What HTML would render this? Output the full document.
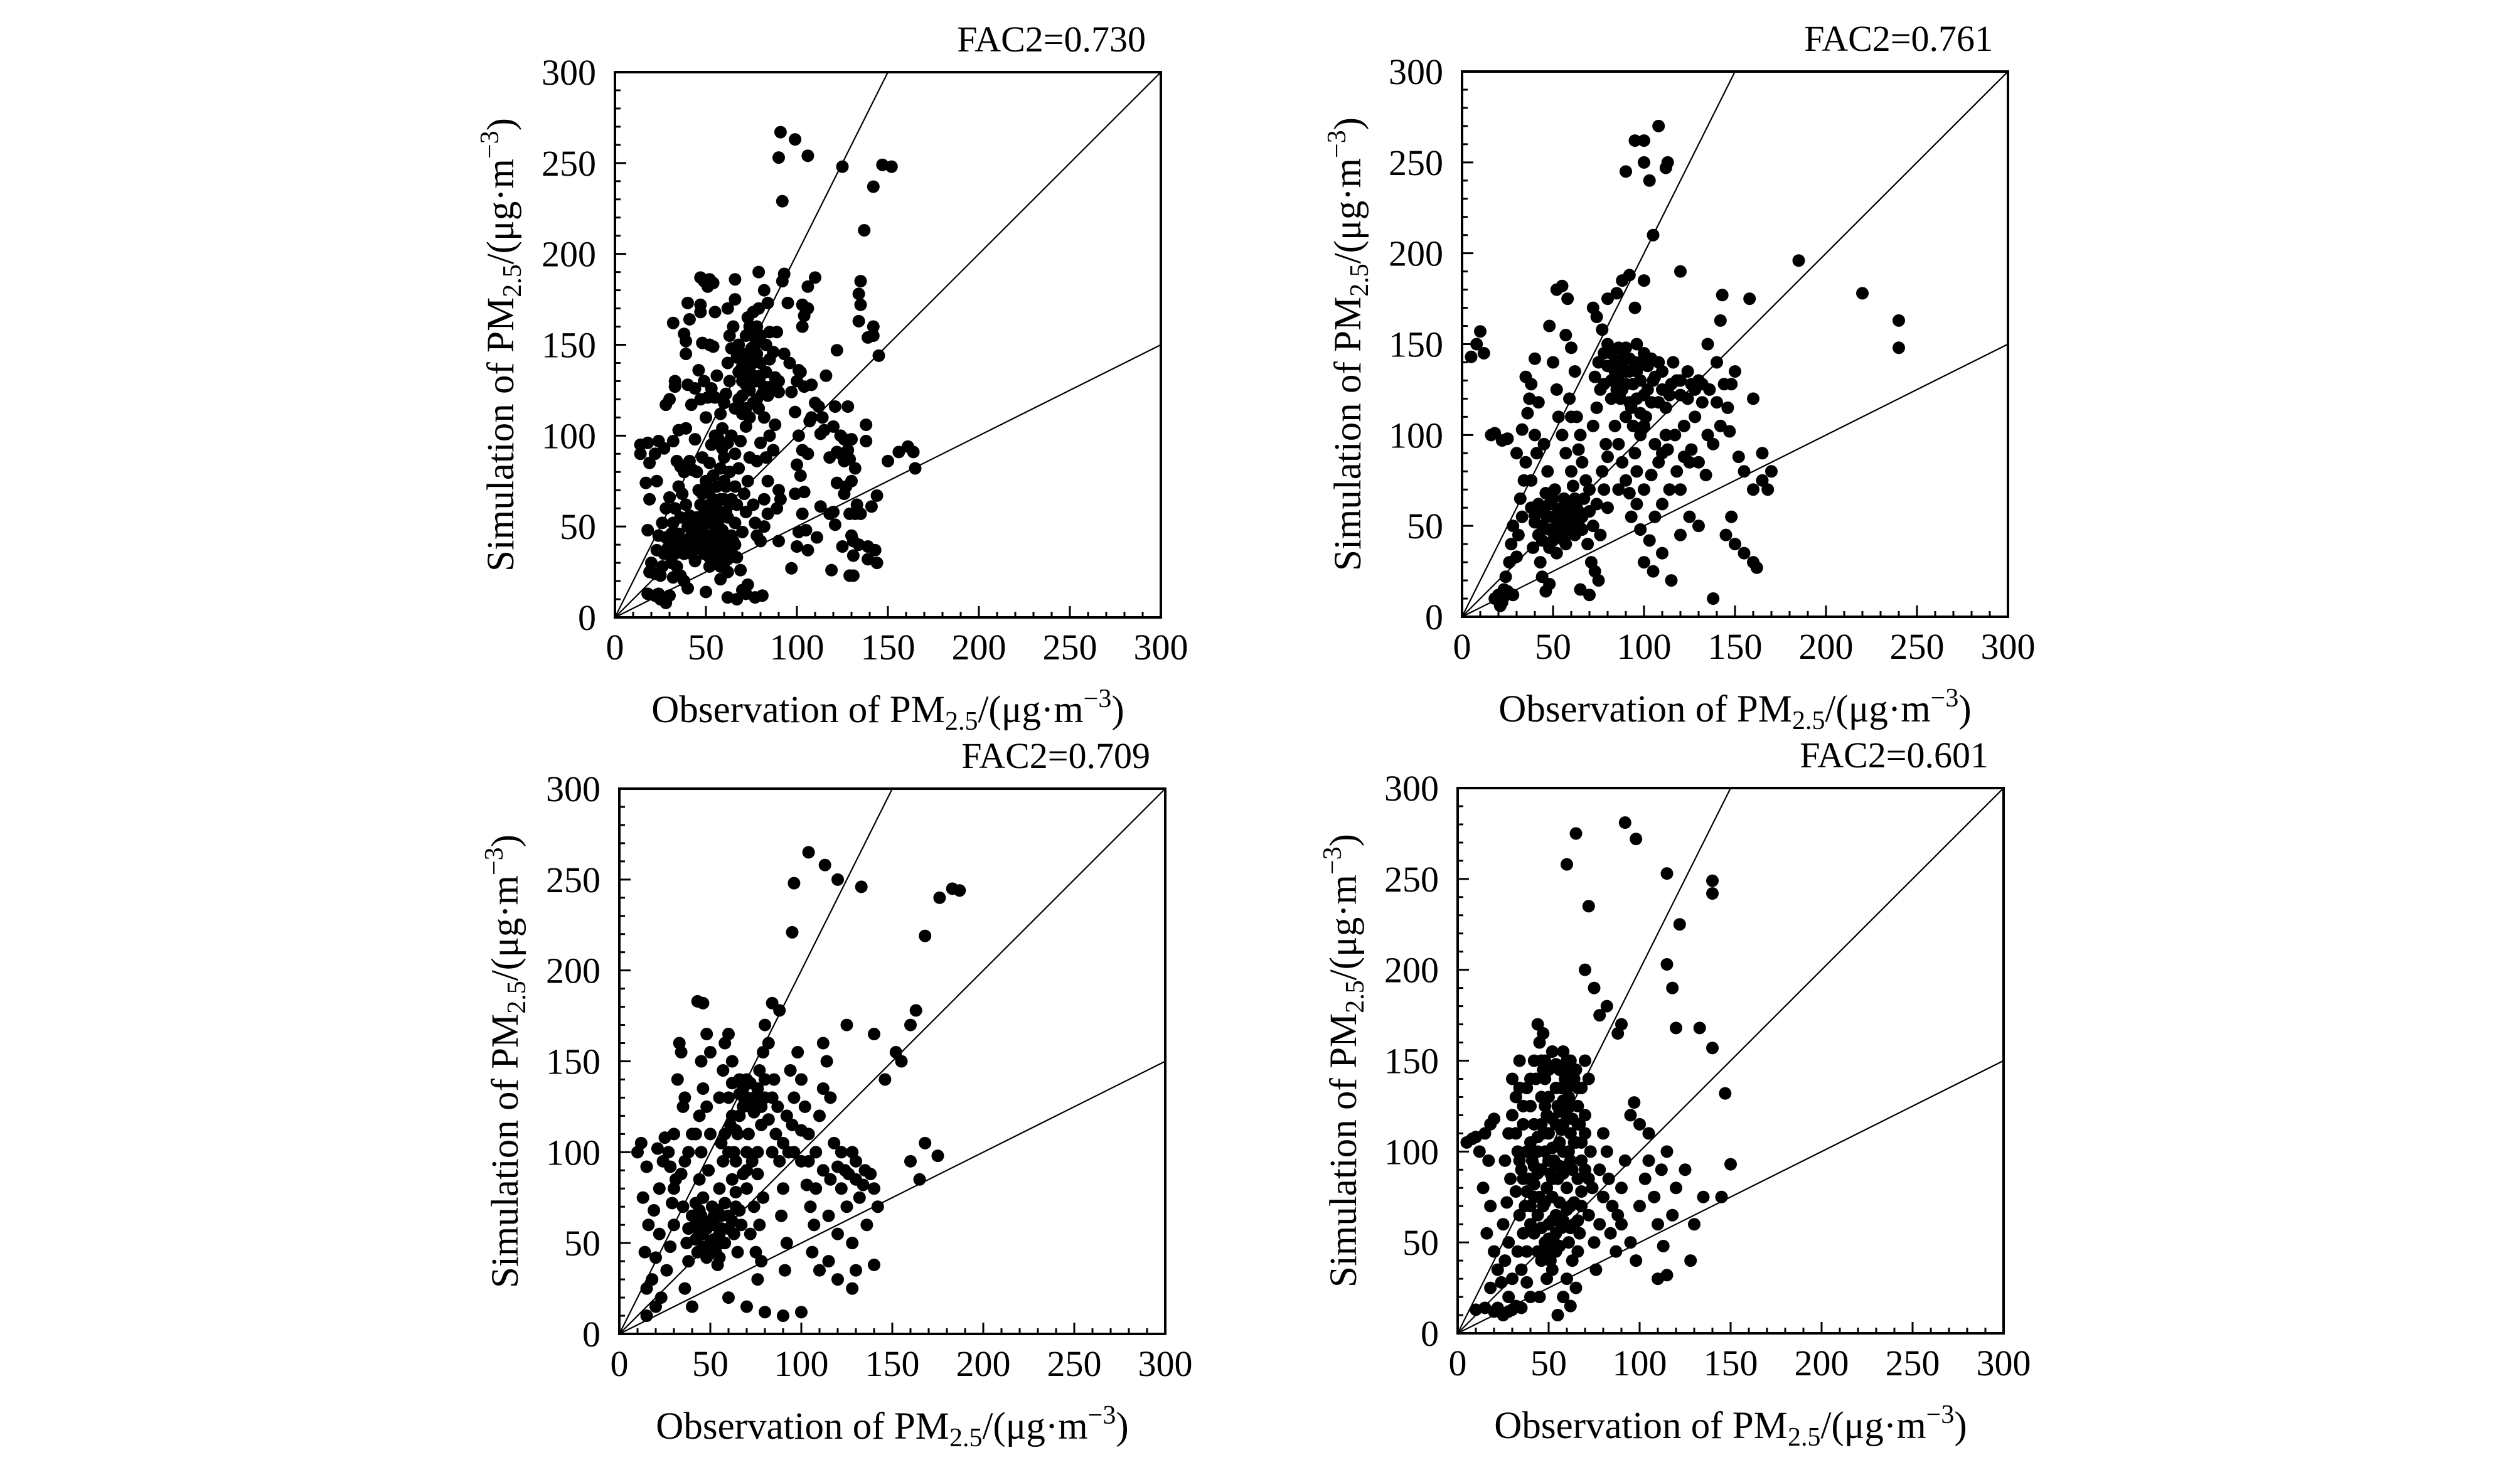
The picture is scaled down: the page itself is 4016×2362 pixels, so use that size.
<!DOCTYPE html>
<html><head><meta charset="utf-8"><style>
html,body{margin:0;padding:0;background:#fff}
svg{display:block}
text{font-family:"Liberation Serif","Times New Roman",serif;fill:#000}
</style></head><body>
<svg id="chart" width="4016" height="2362" viewBox="0 0 4016 2362" xmlns="http://www.w3.org/2000/svg" font-family="Liberation Serif, serif"></svg>
<script>
const tickValues=[0,50,100,150,200,250,300];
const fac2Labels=["FAC2=0.730","FAC2=0.761","FAC2=0.709","FAC2=0.601"];
const refSlopes=[2,1,0.5];
const p1=[[91,267],[99,263],[90,253],[106,254],[92,229],[125,248],[147,249],[152,248],[142,237],[137,213],[135,185],[134,178],[135,172],[134,163],[139,154],[142,160],[142,155],[145,144],[122,147],[128,116],[121,116],[124,100],[138,106],[138,97],[161,94],[164,91],[156,91],[150,86],[165,82],[144,67],[141,61],[132,57],[129,57],[130,45],[131,42],[134,40],[139,39],[143,37],[144,30],[139,32],[131,34],[129,23],[131,23],[119,26],[125,39],[121,51],[120,58],[111,44],[106,37],[100,39],[97,27],[90,42],[81,12],[77,11],[72,13],[67,10],[62,11],[50,14],[58,21],[70,15],[73,18],
[14,95],[14,90],[18,96],[19,85],[17,74],[19,65],[18,48],[20,30],[19,25],[18,13],[22,12],[25,10],[28,8],[24,13],[30,12],[22,24],[25,23],[27,35],[23,37],[24,45],[26,52],[28,60],[30,66],[23,75],[22,90],[24,97],[27,93],[28,117],[30,120],[33,127],[33,130],[32,162],[38,156],[39,152],[39,145],[40,173],[41,164],[42,117],[40,128],[44,126],[35,103],[39,104],[32,97],[34,86],[36,83],[38,80],[41,86],[43,81],[44,98],[35,72],[37,68],[39,62],[41,56],[43,52],[36,55],[33,60],[31,46],[35,46],[38,42],[40,38],[42,35],[44,31],[36,38],[33,35],[30,40],[34,28],[36,23],[38,20],[40,16],[44,40],[46,45],[45,55],[47,62],[46,70],[45,80],[48,88],[47,120],[49,130],[46,136],[48,151],[47,168],[47,172],[47,187],[49,185],[51,182],[52,186],[54,184],[52,150],[54,149],[55,168],[56,133],[53,126],[51,121],[55,121],[50,110],[53,95],[55,100],[57,98],[59,93],[52,85],[50,75],[52,70],[54,65],[56,60],[58,55],[50,60],[48,50],[51,45],[53,40],[55,50],[57,45],[59,40],[49,35],[52,33],[55,30],[58,35],[60,30],[62,25],[63,38],[61,45],[62,55],[60,65],[61,72],[63,80],[60,88],[62,96],[64,100],[59,104],[58,112],[60,118],[61,123],[63,130],[62,140],[64,148],[63,155],[65,160],[62,170],[66,175],[66,186],[68,150],[67,143],[69,136],[70,130],[68,120],[70,112],[72,105],[69,97],[66,90],[68,82],[66,72],[67,62],[66,52],[65,42],[67,33],[69,26],[70,47],[72,58],[71,68],[73,75],[74,88],[72,115],[74,125],[76,133],[73,140],[75,148],[72,155],[74,160],[73,165],[76,168],[79,170],[78,160],[77,150],[80,140],[78,130],[81,123],[79,115],[82,110],[80,96],[78,86],[76,62],[77,52],[78,45],[80,42],[82,50],[84,57],[82,65],[84,75],[83,88],[85,100],[84,122],[86,127],[83,135],[85,142],[83,150],[85,157],[82,180],[79,190],[84,173],[87,146],[88,132],[90,124],[90,130],[89,157],[88,106],[87,92],[90,70],[91,65],[89,60],[92,185],[93,189],[93,145],[95,173],[96,140],[97,124],[100,130],[102,135],[104,127],[99,113],[101,100],[103,92],[100,84],[102,78],[99,68],[104,69],[103,57],[101,47],[105,48],[108,110],[106,90],[107,108],[110,118],[112,116],[114,110],[115,103],[113,101],[116,133],[106,170],[103,160],[104,166],[103,172],[106,182],[110,187],[101,136],[108,128],[113,61],[118,57],[118,88],[120,105],[122,91],[124,90],[126,98],[128,92],[126,86],[122,74],[126,68],[130,75],[132,82],[130,98],[133,62],[135,57],[127,72],[129,87],
[45,48],[47,53],[49,57],[51,52],[53,56],[55,44],[57,50],[59,48],[61,58],[63,62],[56,38],[54,35],[50,40],[46,38],[48,43],[52,62],[58,65],[60,42],[64,45],[48,68],[56,72],[60,75],[54,78],[58,82],[64,65],[68,135],[70,138],[72,128],[74,135],[76,140],[78,145],[80,133],[82,127],[76,118],[70,122],[66,115],[74,110],[78,120],[72,145],[80,155],[76,155],[70,145],[42,45],[40,50],[38,35],[34,40],[32,52],[28,44],[29,38],[31,30],[26,28],[32,22],[62,32],[66,40],[64,36],[58,28],[52,28]];
const p2=[[5,143],[8,150],[10,157],[12,145],[16,100],[18,101],[22,97],[25,98],[18,10],[20,12],[22,8],[23,15],[25,14],[21,6],[28,12],[24,22],[26,30],[27,40],[28,50],[30,33],[31,45],[33,55],[32,65],[34,75],[35,85],[30,90],[33,103],[36,112],[37,120],[35,132],[38,128],[40,142],[42,118],[40,100],[41,90],[38,60],[40,52],[42,45],[39,38],[43,30],[44,22],[46,14],[48,18],[45,60],[47,55],[48,48],[50,42],[52,50],[49,62],[51,70],[53,58],[55,52],[54,45],[57,40],[58,55],[56,65],[59,62],[60,50],[62,45],[61,72],[63,60],[64,52],[60,80],[57,90],[55,100],[53,110],[52,125],[50,140],[48,160],[52,180],[55,182],[58,175],[57,155],[60,148],[62,135],[59,120],[63,110],[65,100],[64,92],[66,85],[68,75],[67,65],[70,58],[72,50],[69,40],[71,30],[73,25],[75,20],[70,12],[65,15],[76,45],[74,62],[78,70],[77,80],[80,88],[79,95],[72,105],[74,115],[76,125],[73,132],[75,140],[78,145],[80,150],[77,158],[74,165],[72,170],[80,175],[85,178],[88,185],[92,188],[82,130],[85,138],[88,142],[90,148],[92,135],[95,140],[98,130],[100,145],[102,125],[96,120],[93,115],[90,110],[87,120],[85,125],[84,105],[86,95],[88,85],[90,75],[92,68],[95,90],[98,100],[101,110],[104,118],[106,132],[108,140],[110,125],[112,115],[115,128],[118,130],[120,122],[124,135],[126,128],[130,130],[132,118],[128,110],[122,105],[117,100],[113,92],[108,85],[104,78],[100,70],[96,62],[93,55],[98,48],[103,42],[106,55],[110,62],[114,70],[118,80],[122,88],[126,92],[130,85],[134,78],[138,95],[142,105],[146,115],[148,128],[150,135],[140,140],[135,150],[147,102],[152,88],[155,80],[160,70],[165,75],[100,30],[105,25],[110,35],[115,20],[120,45],[125,55],[95,262],[100,250],[103,240],[90,245],[108,270],[100,262],[112,247],[113,250],[185,196],[220,178],[240,163],[240,148],[158,175],[143,177],[142,163],[160,120],[165,90],[170,80],[168,70],[160,30],[162,27],[155,35],[150,40],[145,45],[148,55],[138,10],[130,50],[95,170],[100,185],[105,210],[120,190],[60,110],[45,95],[47,80],[38,75],[55,60],[58,48],[62,65],[66,55],[70,70],[84,135],[90,128],[96,150],[82,120],[105,130],[98,112],
[44,50],[46,56],[48,62],[50,55],[52,45],[54,58],[56,48],[58,62],[60,56],[62,52],[50,65],[46,68],[42,62],[40,56],[44,42],[48,38],[56,42],[64,58],[66,48],[52,35],[86,130],[88,138],[90,135],[92,142],[94,128],[96,135],[98,140],[100,122],[102,138],[104,142],[88,125],[92,118],[94,105],[84,140],[86,148],[80,138],[78,128],[82,145],[108,118],[110,135],[114,122],[116,140],[120,130],[124,120],[128,125],[132,128],[136,125],[140,118],[144,128],[112,100],[106,95],[100,105],[22,10],[20,9],[23,11],[80,60],[86,70],[96,80],[110,90],[120,70],[125,85],[135,100]];
const p3=[[10,100],[12,105],[15,92],[13,75],[16,60],[14,45],[15,25],[15,10],[20,15],[18,30],[20,42],[22,55],[19,68],[22,80],[24,95],[21,102],[25,108],[23,20],[26,35],[28,48],[30,60],[29,72],[31,85],[27,100],[30,110],[32,140],[34,155],[33,160],[35,125],[36,95],[35,70],[37,50],[38,40],[36,25],[40,15],[42,60],[44,55],[43,45],[45,65],[46,75],[44,85],[45,100],[42,110],[44,120],[46,135],[45,150],[43,183],[46,182],[48,165],[50,155],[48,125],[50,110],[49,90],[51,70],[52,60],[50,50],[53,45],[55,55],[54,38],[56,65],[55,80],[57,95],[56,105],[55,130],[57,145],[58,160],[60,165],[62,150],[60,130],[61,115],[63,100],[62,85],[64,70],[63,55],[65,45],[67,60],[66,120],[68,135],[70,140],[69,128],[72,125],[71,110],[73,95],[70,80],[74,70],[72,55],[75,45],[76,30],[78,40],[77,60],[79,75],[76,100],[78,115],[80,130],[77,145],[79,155],[82,160],[80,170],[84,182],[88,178],[85,140],[87,125],[86,110],[88,95],[90,80],[89,65],[92,50],[91,35],[93,100],[95,115],[96,130],[94,145],[98,155],[100,140],[102,125],[104,110],[100,95],[103,82],[105,70],[107,60],[106,45],[110,35],[108,100],[110,120],[112,135],[114,150],[112,160],[116,130],[118,105],[120,92],[122,80],[125,70],[124,90],[128,100],[130,85],[132,75],[135,90],[138,88],[140,80],[142,70],[136,60],[128,50],[120,55],[115,65],[104,265],[113,258],[120,250],[96,248],[133,246],[95,221],[168,219],[176,240],[183,245],[187,244],[163,178],[160,170],[152,155],[146,140],[155,150],[140,165],[125,170],[168,105],[175,98],[160,95],[165,85],[130,35],[128,25],[120,30],[140,38],[115,40],[100,12],[90,10],[80,12],[70,15],[60,20],[65,110],[58,72],[47,58],[52,65],[56,50],[60,58],[48,42],[44,68],[62,138],[66,132],[74,130],[64,112],[70,100],
[42,52],[44,62],[46,48],[48,58],[50,62],[52,52],[54,68],[56,58],[58,50],[60,65],[46,55],[50,45],[55,42],[40,65],[42,72],[38,58],[62,62],[64,78],[66,68],[68,88],[70,130],[72,138],[74,122],[76,135],[78,125],[80,140],[82,118],[84,130],[66,140],[68,125],[62,120],[60,100],[58,110],[64,95],[70,90],[76,88],[84,100],[90,105],[92,120],[96,100],[100,112],[104,95],[108,80],[112,90],[116,85],[122,100],[126,88],[130,95],[134,82],[30,80],[28,92],[34,88],[38,100],[40,110],[36,130]];
const p4=[[5,105],[8,107],[10,108],[12,100],[15,110],[18,115],[20,118],[17,95],[14,80],[18,70],[16,55],[20,45],[22,35],[18,25],[10,13],[15,14],[20,12],[25,10],[30,13],[35,14],[28,20],[24,28],[26,40],[28,50],[25,60],[27,72],[29,85],[26,95],[28,110],[30,120],[32,130],[30,140],[34,135],[33,100],[35,90],[32,78],[34,65],[36,55],[33,45],[35,35],[38,28],[40,20],[38,45],[40,60],[42,75],[39,85],[41,95],[40,105],[42,115],[40,125],[43,140],[42,150],[45,160],[44,170],[47,165],[46,150],[48,140],[46,130],[49,120],[47,110],[48,100],[46,90],[49,80],[47,70],[50,60],[48,50],[51,40],[49,30],[52,35],[53,50],[54,65],[52,75],[55,85],[53,95],[56,105],[54,115],[55,125],[57,135],[56,145],[58,155],[60,150],[59,140],[61,130],[60,120],[62,110],[61,100],[63,90],[60,80],[62,70],[64,60],[61,50],[63,40],[60,30],[65,25],[58,20],[66,45],[67,55],[68,70],[66,85],[68,95],[65,105],[67,115],[66,125],[68,135],[65,145],[70,150],[72,140],[70,120],[73,100],[74,80],[72,65],[75,50],[76,35],[78,60],[80,75],[78,90],[82,100],[80,110],[83,85],[85,70],[84,55],[87,45],[88,65],[90,80],[92,95],[90,60],[95,50],[98,40],[100,70],[103,85],[105,95],[108,75],[110,60],[112,90],[115,100],[120,80],[125,90],[65,275],[92,281],[98,272],[60,258],[72,235],[115,253],[140,249],[140,242],[122,225],[115,203],[118,190],[120,168],[133,168],[140,157],[147,132],[150,93],[145,75],[135,75],[130,60],[118,65],[115,32],[110,30],[128,40],[113,48],[95,120],[100,115],[97,127],[105,110],[90,170],[88,165],[82,180],[78,175],[70,200],[75,190],[50,130],[52,155],[57,112],[44,88],[37,70],[30,30],[45,20],[55,10],[62,15],[44,108],[50,95],[52,118],[58,128],[45,75],[54,45],[57,58],[51,88],[63,118],[47,145],[36,115],[38,100],
[42,55],[44,65],[46,58],[48,72],[50,52],[52,62],[54,55],[56,72],[58,62],[60,68],[62,58],[64,72],[44,45],[46,40],[50,45],[56,48],[42,92],[44,100],[46,115],[48,125],[50,110],[52,102],[54,135],[56,122],[58,115],[60,135],[62,125],[64,140],[66,135],[60,145],[62,150],[54,148],[50,145],[48,150],[56,92],[58,100],[62,95],[64,105],[66,115],[68,105],[70,110],[52,85],[54,92],[58,88],[60,92],[40,70],[38,78],[36,85],[42,82],[34,95],[32,110],[36,125],[38,135],[34,150],[40,140],[66,62],[68,78],[70,90],[72,85],[28,12],[32,15],[22,14]];
const seriesList=[p1,p2,p3,p4];

const NS="http://www.w3.org/2000/svg";
const svg=document.getElementById('chart');
const frames=[[980,115],[2330,114],[987,1257],[2323,1256]];
const W=870,H=869,MAXV=300;
function mk(tag,attrs,parent){const e=document.createElementNS(NS,tag);for(const k in attrs)e.setAttribute(k,attrs[k]);(parent||svg).appendChild(e);return e;}

frames.forEach((f,i)=>{
  const [L,T]=f;
  const xs=v=>L+v/MAXV*W, ys=v=>T+H-v/MAXV*H;
  const g=mk('g',{});
  
  
  refSlopes.forEach(s=>{
    const xEnd=Math.min(MAXV,MAXV/s);
    const ln=mk('line',{x1:xs(0),y1:ys(0),x2:xs(xEnd),y2:ys(xEnd*s),stroke:'#000','stroke-width':2.2},g);
    
    
  });
  const pg=mk('g',{fill:'#000'},g);
  
  
  seriesList[i].forEach(p=>{
    const c=mk('circle',{cx:xs(p[0]),cy:ys(p[1]),r:10},pg);
    
    
  });
  for(let v=0;v<=MAXV;v+=10){
    const len=(v%50===0)?18:9;
    mk('line',{x1:xs(v),y1:T+H,x2:xs(v),y2:T+H-len,stroke:'#000','stroke-width':3},g);
    mk('line',{x1:L,y1:ys(v),x2:L+len,y2:ys(v),stroke:'#000','stroke-width':3},g);
  }
  const fr=mk('rect',{x:L,y:T,width:W,height:H,fill:'none',stroke:'#000','stroke-width':4},g);
  
  
  tickValues.forEach(v=>{
    const tx=mk('text',{x:xs(v),y:T+H+67,'text-anchor':'middle','font-size':58,'font-family':'Liberation Serif, serif'},g);
    tx.textContent=v;
    
    
    const ty=mk('text',{x:L-30,y:ys(v)+20,'text-anchor':'end','font-size':58,'font-family':'Liberation Serif, serif'},g);
    ty.textContent=v;
    
    
  });
  const xt=mk('text',{x:L+W/2,y:T+H+167,'text-anchor':'middle','font-size':61,'font-family':'Liberation Serif, serif'},g);
  
  
  xt.innerHTML='Observation of PM<tspan font-size="42" dy="12">2.5</tspan><tspan dy="-12">/(μg·m</tspan><tspan font-size="42" dy="-24">−3</tspan><tspan dy="24">)</tspan>';
  const yt=mk('text',{x:0,y:0,'text-anchor':'middle','font-size':61,'font-family':'Liberation Serif, serif',transform:'translate('+(L-162)+','+(T+H/2)+') rotate(-90)'},g);
  
  
  yt.innerHTML='Simulation of PM<tspan font-size="42" dy="12">2.5</tspan><tspan dy="-12">/(μg·m</tspan><tspan font-size="42" dy="-24">−3</tspan><tspan dy="24">)</tspan>';
  const fc=mk('text',{x:L+W-24,y:T-33,'text-anchor':'end','font-size':58,'font-family':'Liberation Serif, serif'},g);
  fc.textContent=fac2Labels[i];
  
  
});
</script>
</body></html>
